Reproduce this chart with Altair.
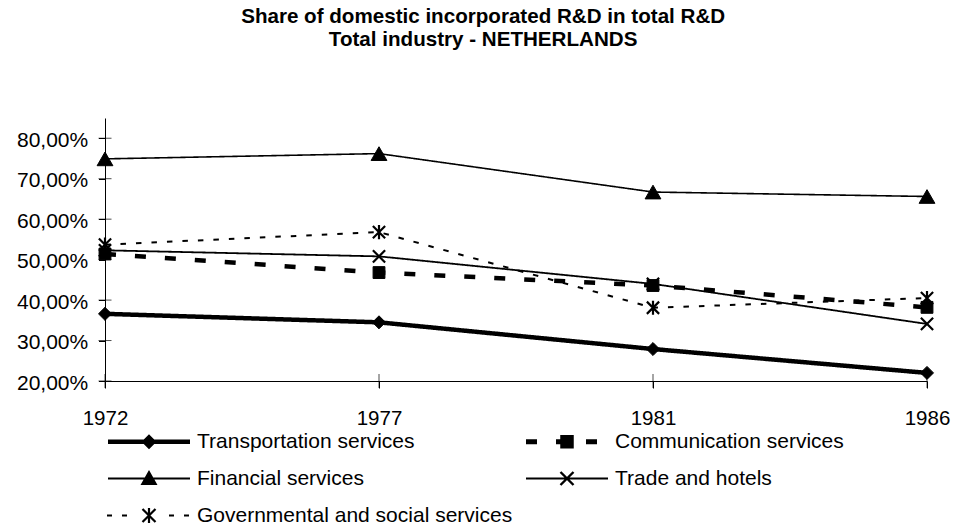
import altair as alt
import pandas as pd

# ---- data -------------------------------------------------------------
YEARS = ["1972", "1977", "1981", "1986"]
SERIES = [
    "Transportation services",
    "Communication services",
    "Financial services",
    "Trade and hotels",
    "Governmental and social services",
]
TRANSPORT = [36.6, 34.5, 27.9, 22.0]
COMMUNICATION = [51.4, 46.8, 43.6, 38.2]
FINANCIAL = [74.9, 76.2, 66.7, 65.6]
TRADE = [52.3, 50.8, 44.0, 34.1]
GOVERNMENT = [53.7, 56.8, 38.1, 40.5]
Y_TICKS = [20, 30, 40, 50, 60, 70, 80]
Y_DOMAIN = [20, 85]

VALUES = [TRANSPORT, COMMUNICATION, FINANCIAL, TRADE, GOVERNMENT]
rows = []
for name, vals in zip(SERIES, VALUES):
    for yr, v in zip(YEARS, vals):
        rows.append({"series": name, "year": yr, "share": v})
df = pd.DataFrame(rows)

FONT = "Liberation Sans"

# ---- per-series styling --------------------------------------------------
CROSS = "M-1,-1L1,1M-1,1L1,-1"
ASTERISK = "M-1,-1L1,1M-1,1L1,-1M0,-1.15L0,1.15"
STYLE = {
    "Transportation services": dict(dash=[1, 0], width=4.5, shape="diamond", size=170, filled=True),
    "Communication services": dict(dash=[11, 19], width=4.5, shape="square", size=140, filled=True),
    "Financial services": dict(dash=[1, 0], width=1.6, shape="triangle-up", size=250, filled=True),
    "Trade and hotels": dict(dash=[1, 0], width=1.8, shape=CROSS, size=150, filled=False),
    "Governmental and social services": dict(dash=[5.5, 10], width=2, shape=ASTERISK, size=150, filled=False),
}

# ---- legend glyphs: line sample with a centred marker, drawn as filled paths ----
UNIT = 10.0            # px per symbol-path unit (symbol size 400 -> sqrt/2 = 10)
SYM_SIZE = 400


def poly(points):
    # consistent winding so overlapping pieces merge under the nonzero rule
    area = sum(x1 * y2 - x2 * y1 for (x1, y1), (x2, y2) in zip(points, points[1:] + points[:1]))
    if area < 0:
        points = points[::-1]
    head = "M" + "L".join(f"{x / UNIT:.3f},{y / UNIT:.3f}" for x, y in points)
    return head + "Z"


def bar(x1, y1, x2, y2, w):
    dx, dy = x2 - x1, y2 - y1
    ln = (dx * dx + dy * dy) ** 0.5
    nx, ny = -dy / ln * w / 2, dx / ln * w / 2
    return poly([(x1 + nx, y1 + ny), (x2 + nx, y2 + ny), (x2 - nx, y2 - ny), (x1 - nx, y1 - ny)])


def xmark(r, w):
    return bar(-r, -r, r, r, w) + bar(-r, r, r, -r, w)


HALF = 41
GLYPH = {
    "Transportation services": bar(-HALF, 0, HALF, 0, 4.5)
    + poly([(0, -7.5), (7.5, 0), (0, 7.5), (-7.5, 0)]),
    "Communication services": bar(-HALF, 0, -30, 0, 5) + bar(-11, 0, -6, 0, 5) + bar(19, 0, 30, 0, 5)
    + poly([(-6.75, -6.75), (6.75, -6.75), (6.75, 6.75), (-6.75, 6.75)]),
    "Financial services": bar(-HALF, 0, HALF, 0, 1.8)
    + poly([(0, -8.5), (8.5, 6.5), (-8.5, 6.5)]),
    "Trade and hotels": bar(-HALF, 0, HALF, 0, 1.8) + xmark(6.5, 2.4),
    "Governmental and social services": bar(-42, 0, -37, 0, 2) + bar(-27, 0, -22, 0, 2)
    + bar(20, 0, 25, 0, 2) + bar(35, 0, 40, 0, 2)
    + xmark(6.5, 2.2) + bar(0, -7.5, 0, 7.5, 2.2),
}
# legend entries fill column by column; this order reads row by row in two columns
LEGEND_ORDER = [SERIES[0], SERIES[2], SERIES[4], SERIES[1], SERIES[3]]

x_enc = alt.X("year:O", scale=alt.Scale(type="point", padding=0, domain=YEARS),
              axis=alt.Axis(title=None, labelAngle=0, tickSize=7, labelPadding=20,
                            labelFontSize=20.5, domainColor="black", tickColor="black"))
y_scale = alt.Scale(domain=Y_DOMAIN, nice=False, zero=False)
y_enc = alt.Y("share:Q", scale=y_scale,
              axis=alt.Axis(title=None, values=Y_TICKS, tickSize=6.5, labelPadding=10.8,
                            labelOffset=2, labelFontSize=21,
                            labelExpr="replace(format(datum.value / 100, '.2%'), '.', ',')",
                            domainColor="black", tickColor="black"))

base = alt.Chart(df)
layers = []
for name in SERIES:
    st = STYLE[name]
    layers.append(
        base.transform_filter(alt.datum.series == name)
        .mark_line(color="black", strokeWidth=st["width"], strokeDash=st["dash"])
        .encode(x=x_enc, y=y_enc)
    )
for name in SERIES:
    st = STYLE[name]
    if st["filled"]:
        mk = dict(filled=True, color="black", stroke="black", strokeWidth=1,
                  shape=st["shape"], size=st["size"], opacity=1)
    else:
        mk = dict(filled=False, color="black", strokeWidth=2.2,
                  shape=st["shape"], size=st["size"], opacity=1)
    layers.append(
        base.transform_filter(alt.datum.series == name).mark_point(**mk)
        .encode(x="year:O", y="share:Q")
    )

# cross-style tick marks on both axes
x_ticks = alt.Chart(pd.DataFrame({"year": YEARS})).mark_tick(
    orient="vertical", size=14, thickness=1, color="black"
).encode(x="year:O", y=alt.datum(Y_DOMAIN[0], type="quantitative"))
y_ticks = alt.Chart(pd.DataFrame({"share": Y_TICKS})).mark_tick(
    orient="horizontal", size=13, thickness=1, color="black"
).encode(x=alt.datum(YEARS[0], type="ordinal"), y="share:Q")

# legend: driven by a shape scale whose range holds the sample glyphs
legend_layer = base.transform_filter("false").mark_point(
    filled=True, color="black", strokeWidth=0, size=SYM_SIZE
).encode(
    x="year:O", y="share:Q",
    shape=alt.Shape(
        "series:N",
        scale=alt.Scale(domain=LEGEND_ORDER, range=[GLYPH[s] for s in LEGEND_ORDER]),
        legend=alt.Legend(
            title=None, orient="none", legendX=0, legendY=313, columns=2,
            symbolSize=SYM_SIZE, symbolStrokeWidth=0, symbolFillColor="black",
            symbolOpacity=1, symbolOffset=33.5,
            labelFont=FONT, labelFontSize=21, labelColor="black", labelLimit=500,
            labelOffset=37.5, rowPadding=15, columnPadding=10, padding=0,
        ),
    ),
)

chart = alt.layer(*layers, x_ticks, y_ticks, legend_layer).properties(
    width=822,
    height=263,
    autosize=alt.AutoSizeParams(type="none"),
    padding={"left": 105, "top": 118, "right": 35, "bottom": 144},
    background="white",
    title=alt.TitleParams(
        text=["Share of domestic incorporated R&D in total R&D", "Total industry - NETHERLANDS"],
        font=FONT, fontSize=20.6, fontWeight="bold", color="black",
        anchor="middle", frame="bounds", offset=67, lineHeight=23,
    ),
).configure_view(stroke=None).configure_axis(
    grid=False, labelFont=FONT, labelColor="black",
)

chart.save("out.html", embed_options={"renderer": "svg", "actions": False})
